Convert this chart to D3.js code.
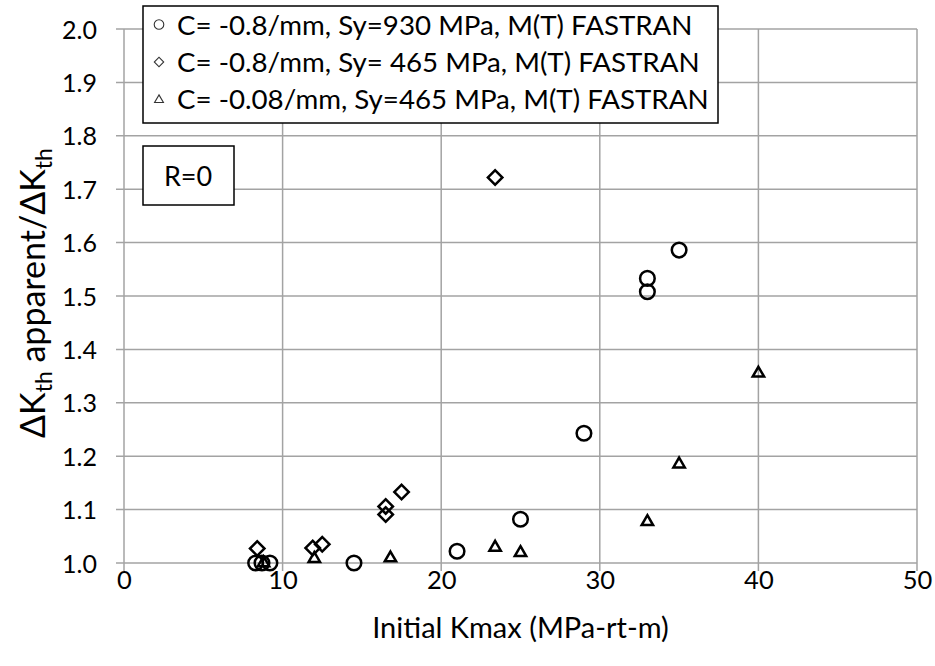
<!DOCTYPE html>
<html><head><meta charset="utf-8">
<script src="https://cdn.jsdelivr.net/npm/d3@7"></script>
<style>
body{margin:0;background:#fff}
svg{display:block}
text{font-family:Lato,"Open Sans",sans-serif;fill:#000}
</style>
</head><body>
<svg id="chart" width="935" height="666"></svg>
<script>
// ---- data ----
const xTickValues = [0, 10, 20, 30, 40, 50];
const yTickValues = [1.0, 1.1, 1.2, 1.3, 1.4, 1.5, 1.6, 1.7, 1.8, 1.9, 2.0];
const seriesNames = [
  "C= -0.8/mm, Sy=930 MPa, M(T) FASTRAN",
  "C= -0.8/mm, Sy= 465 MPa, M(T) FASTRAN",
  "C= -0.08/mm, Sy=465 MPa, M(T) FASTRAN"
];
const circleX = [8.3, 8.7, 9.2, 14.5, 21.0, 25.0, 29.0, 33.0, 33.0, 35.0];
const circleY = [1.000, 1.000, 1.000, 1.000, 1.022, 1.082, 1.243, 1.508, 1.533, 1.586];
const diamondX = [8.4, 11.9, 12.5, 16.5, 16.5, 17.5, 23.4];
const diamondY = [1.027, 1.028, 1.035, 1.091, 1.106, 1.133, 1.722];
const triangleX = [8.8, 12.0, 16.8, 23.4, 25.0, 33.0, 35.0, 40.0];
const triangleY = [1.003, 1.011, 1.012, 1.032, 1.022, 1.080, 1.188, 1.358];
const xTitle = "Initial Kmax (MPa-rt-m)";
const annotation = "R=0";

(function () {
// ---- layout ----
const svg = d3.select("#chart");
const pL = 124, pR = 917, pT = 29, pB = 563;
const x = d3.scaleLinear().domain([0, 50]).range([pL, pR]);
const y = d3.scaleLinear().domain([1, 2]).range([pB, pT]);
const gridColor = "#a3a3a3";

// gridlines
svg.append("g").selectAll("line").data(yTickValues).join("line")
  .attr("x1", pL - 8).attr("x2", pR)
  .attr("y1", d => y(d)).attr("y2", d => y(d))
  .attr("stroke", gridColor).attr("stroke-width", 1.5);
svg.append("g").selectAll("line").data(xTickValues).join("line")
  .attr("x1", d => x(d)).attr("x2", d => x(d))
  .attr("y1", pT).attr("y2", pB + 8)
  .attr("stroke", gridColor).attr("stroke-width", 1.5);

// axes (labels)
const xAxis = svg.append("g").attr("transform", `translate(0,${pB})`)
  .call(d3.axisBottom(x).tickValues(xTickValues).tickSize(0).tickPadding(8).tickFormat(d3.format("d")));
xAxis.select(".domain").remove();
xAxis.selectAll("text").style("font-size", "25.5px").style("font-family", "Lato").attr("fill", "#000");

const yAxis = svg.append("g").attr("transform", `translate(${pL},0)`)
  .call(d3.axisLeft(y).tickValues(yTickValues).tickSize(0).tickPadding(27).tickFormat(d3.format(".1f")));
yAxis.select(".domain").remove();
yAxis.selectAll("text").style("font-size", "25px").style("font-family", "Lato").attr("fill", "#000").attr("dy", "0.36em");

// axis titles
svg.append("text").attr("x", (pL + pR) / 2).attr("y", 638)
  .attr("text-anchor", "middle").style("font-size", "29px").text(xTitle);

const yt = svg.append("text")
  .attr("transform", `translate(45,293) rotate(-90)`)
  .attr("text-anchor", "middle").style("font-size", "34px");
yt.append("tspan").text("\u0394K");
yt.append("tspan").attr("dy", 7).style("font-size", "23px").text("th");
yt.append("tspan").attr("dy", -7).text(" apparent/\u0394K");
yt.append("tspan").attr("dy", 7).style("font-size", "23px").text("th");

// markers
const sw = 2.5;
svg.append("g").selectAll("path").data(circleX.map((d, i) => [d, circleY[i]])).join("path")
  .attr("d", d3.symbol().type(d3.symbolCircle).size(Math.PI * 7.3 * 7.3))
  .attr("transform", d => `translate(${x(d[0])},${y(d[1])})`)
  .attr("fill", "none").attr("stroke", "#000").attr("stroke-width", sw);
svg.append("g").selectAll("path").data(diamondX.map((d, i) => [d, diamondY[i]])).join("path")
  .attr("d", d3.symbol().type(d3.symbolSquare).size(105))
  .attr("transform", d => `translate(${x(d[0])},${y(d[1])}) rotate(45)`)
  .attr("fill", "none").attr("stroke", "#000").attr("stroke-width", sw);
svg.append("g").selectAll("path").data(triangleX.map((d, i) => [d, triangleY[i]])).join("path")
  .attr("d", d3.symbol().type(d3.symbolTriangle).size(56))
  .attr("transform", d => `translate(${x(d[0])},${y(d[1]) + 1.5})`)
  .attr("fill", "none").attr("stroke", "#000").attr("stroke-width", sw);

// legend
const lg = svg.append("g");
lg.append("rect").attr("x", 143).attr("y", 6).attr("width", 575).attr("height", 117)
  .attr("fill", "#fff").attr("stroke", "#000").attr("stroke-width", 1.5);
const rowY = [24.5, 62, 99];
const legendTypes = [d3.symbolCircle, d3.symbolSquare, d3.symbolTriangle];
const legendSizes = [72, 44, 34];
seriesNames.forEach((name, i) => {
  lg.append("path")
    .attr("d", d3.symbol().type(legendTypes[i]).size(legendSizes[i]))
    .attr("transform", `translate(159,${rowY[i] + (i === 2 ? 1 : 0)})` + (i === 1 ? " rotate(45)" : ""))
    .attr("fill", "none").attr("stroke", "#333").attr("stroke-width", 1.1);
  lg.append("text").attr("x", 177).attr("y", rowY[i] + 10)
    .style("font-size", "27.7px").text(name);
});

// R=0 annotation
svg.append("rect").attr("x", 143).attr("y", 146).attr("width", 91).attr("height", 59)
  .attr("fill", "#fff").attr("stroke", "#000").attr("stroke-width", 1.5);
svg.append("text").attr("x", 188).attr("y", 186).attr("text-anchor", "middle")
  .style("font-size", "27px").text(annotation);
})();
</script>
</body></html>
